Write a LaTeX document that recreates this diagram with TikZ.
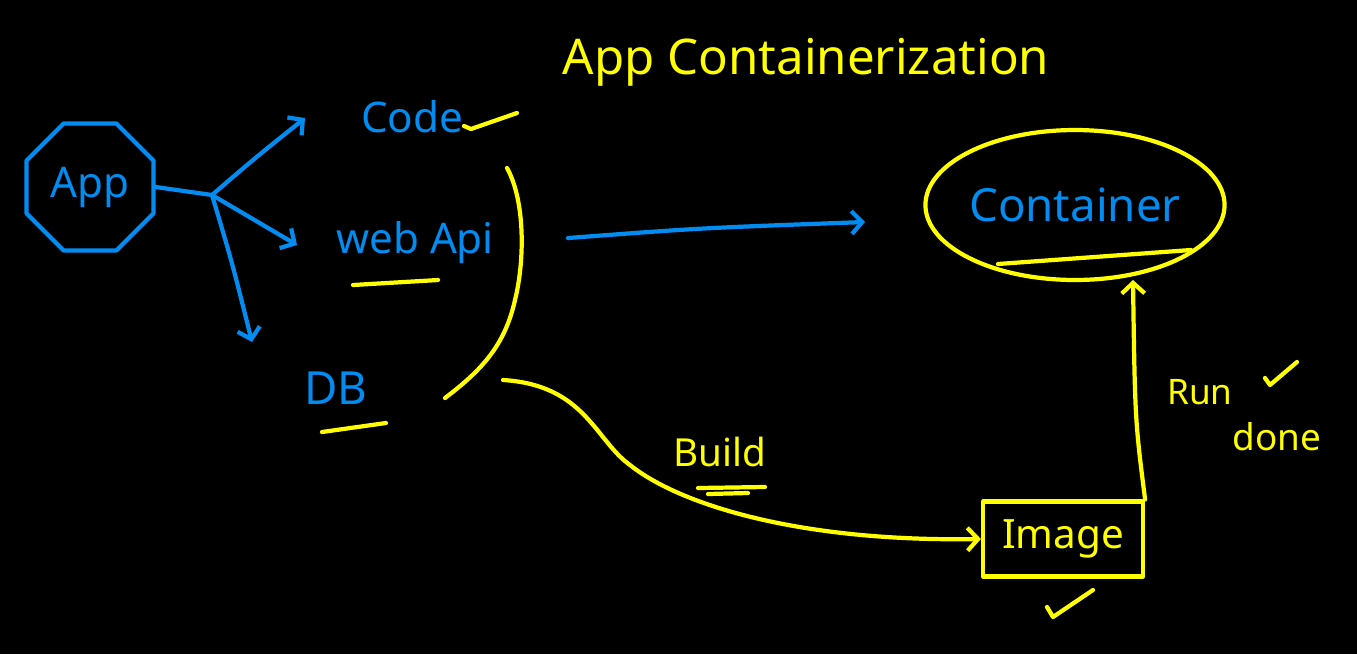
\documentclass[tikz,border=0pt]{standalone}
\usepackage{fontspec}
\setmainfont{Noto Sans}
\usetikzlibrary{arrows.meta,shapes.geometric}
\definecolor{hblue}{RGB}{0,140,240}
\definecolor{hyel}{RGB}{255,255,0}
\begin{document}
\begin{tikzpicture}[x=0.02cm,y=-0.02cm,
 bl/.style={draw=hblue,line width=2.4pt,line cap=round,line join=round},
 yl/.style={draw=hyel,line width=2.4pt,line cap=round,line join=round},
 btxt/.style={text=hblue,inner sep=0pt},
 ytxt/.style={text=hyel,inner sep=0pt},
 tip/.style={-{Straight Barb[length=6pt,width=13pt]}}]
\fill[black] (0,0) rectangle (1357,654);
\useasboundingbox (0,0) rectangle (1357,654);
% title
\node[ytxt,font=\fontsize{28}{30}\selectfont] (title) at (806,62) {App Containerization};
% App
\node[regular polygon,regular polygon sides=8,minimum size=2.75cm,bl,btxt,font=\fontsize{24}{26}\selectfont] (app) at (90,187) {App};
\coordinate (j) at (212,195);
\coordinate (c1) at (305,118);
\coordinate (c2) at (297,245);
\coordinate (c3) at (252,342);
\draw[bl] (app.east) -- (j);
\draw[bl,tip] (j) .. controls (255,158) .. (c1);
\draw[bl,tip] (j) -- (c2);
\draw[bl,tip] (j) .. controls (232,262) .. (c3);
% items
\node[btxt,font=\fontsize{24}{26}\selectfont] (code) at (412,117) {Code};
\node[btxt,font=\fontsize{24}{26}\selectfont] (web) at (415,243) {web Api};
\node[btxt,font=\fontsize{26}{28}\selectfont] (db) at (336,388) {DB};
\draw[yl] (464,126) -- (471,129) -- (517,113);
\draw[yl] (353,285) -- (438,280);
\draw[yl] (322,432) -- (386,423);
% brace
\draw[yl] (507,168) .. controls (525,200) and (525,260) .. (515,300) .. controls (505,345) and (482,370) .. (445,398);
% blue arrow to container
\coordinate (ba1) at (568,238);
\coordinate (ba2) at (865,222);
\draw[bl,tip] (ba1) .. controls (700,228) .. (ba2);
% container
\node[ellipse,yl,btxt,minimum width=5.04cm,minimum height=3.0cm,font=\fontsize{26}{28}\selectfont] (cont) at (1075,205) {Container};
\draw[yl] (998,264) -- (1191,250);
% image
\node[rectangle,yl,ytxt,minimum width=3.2cm,minimum height=1.5cm,font=\fontsize{23}{25}\selectfont] (img) at (1063,539) {Image};
\draw[yl] (1047,607) -- (1053,617) -- (1093,590);
% build
\coordinate (bs) at (503,380);
\draw[yl,tip] (bs) .. controls (585,385) and (595,440) .. (630,465) .. controls (680,505) and (800,542) .. (img.west);
\node[ytxt,font=\fontsize{22}{24}\selectfont] (build) at (720,452) {Build};
\draw[yl] (698,488) -- (765,487);
\draw[yl] (708,494) -- (748,493);
% run
\coordinate (re) at (1133,280);
\draw[yl,tip] (img.north east) .. controls (1135,420) .. (re);
\node[ytxt,font=\fontsize{20}{22}\selectfont] (run) at (1200,392) {Run};
\draw[yl] (1265,378) -- (1270,385) -- (1297,362);
\node[ytxt,font=\fontsize{21}{23}\selectfont] (done) at (1277,437) {done};
\end{tikzpicture}
\end{document}
